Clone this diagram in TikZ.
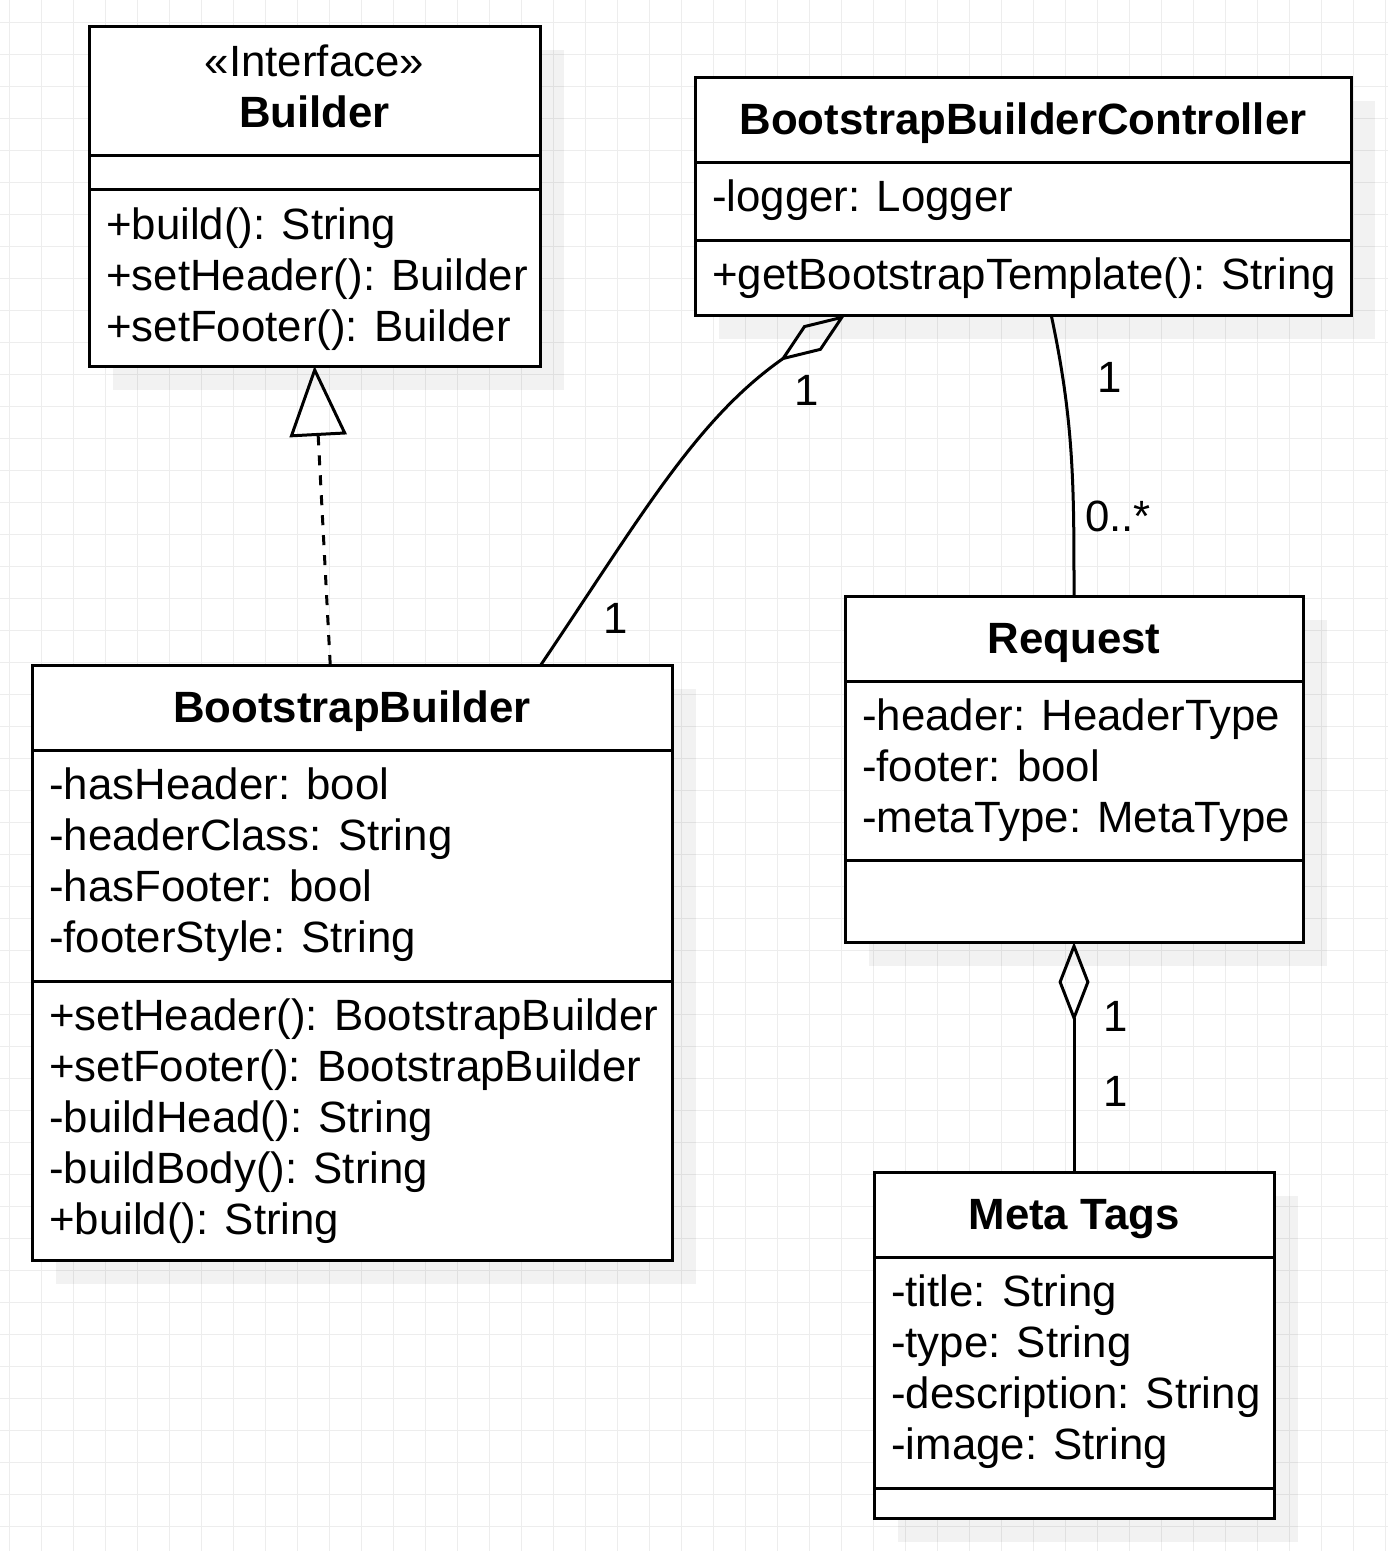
\documentclass[tikz,border=0pt]{standalone}
\usepackage{fontspec}
\setmainfont{Liberation Sans}
\usetikzlibrary{arrows.meta,calc,shadows}
\tikzset{
  gridline/.style={draw=black!7, line width=1pt},
  cls/.style={draw, line width=3pt, fill=white, anchor=north west, inner sep=0pt, outer sep=0pt,
    drop shadow={shadow xshift=24pt, shadow yshift=-24pt, opacity=0.05, fill=black}},
  div/.style={line width=3pt},
  txt/.style={anchor=base west, inner sep=0pt, font=\fontsize{43.8}{51}\selectfont},
  ttl/.style={anchor=base, inner sep=0pt, font=\fontsize{43.8}{51}\selectfont\bfseries},
  stereo/.style={anchor=base, inner sep=0pt, font=\fontsize{43.8}{51}\selectfont},
  lbl/.style={anchor=base, inner sep=0pt, font=\fontsize{43.8}{51}\selectfont},
  lblw/.style={anchor=base west, inner sep=0pt, font=\fontsize{43.8}{51}\selectfont},
  realize/.style={line width=3pt, dash pattern=on 10pt off 10pt, -{Triangle[open, length=70pt, width=57pt]}},
  aggreg/.style={line width=3pt, -{Diamond[open, length=80pt, width=31pt]}},
  assoc/.style={line width=3pt},
}
\begin{document}
\begin{tikzpicture}[x=1pt,y=1pt]
\useasboundingbox (0,0) rectangle (1388,-1551);
\fill[white] (0,0) rectangle (1388,-1551);
\foreach \i in {0,...,43} {\draw[gridline] (9.3+32*\i,0) -- (9.3+32*\i,-1551);}
\foreach \j in {0,...,47} {\draw[gridline] (0,-22-32*\j) -- (1388,-22-32*\j);}

% ---------- Builder interface ----------
\node[cls, minimum width=451pt, minimum height=340pt] (builder) at (89,-26) {};
\draw[div] (builder.west |- 0,-155) -- (builder.east |- 0,-155);
\draw[div] (builder.west |- 0,-189) -- (builder.east |- 0,-189);
\node[stereo] (builderS) at (314.5,-76) {«Interface»};
\node[ttl] (builderT) at (314.5,-127) {Builder};
\node[txt] (builderM1) at (106,-239) {+build(): String};
\node[txt] (builderM2) at (106,-290) {+setHeader(): Builder};
\node[txt] (builderM3) at (106,-341) {+setFooter(): Builder};

% ---------- BootstrapBuilderController ----------
\node[cls, minimum width=656pt, minimum height=238pt] (ctrl) at (695,-77) {};
\draw[div] (ctrl.west |- 0,-162) -- (ctrl.east |- 0,-162);
\draw[div] (ctrl.west |- 0,-240) -- (ctrl.east |- 0,-240);
\node[ttl] (ctrlT) at (1023,-134.5) {BootstrapBuilderController};
\node[txt] (ctrlA1) at (712,-211) {-logger: Logger};
\node[txt] (ctrlM1) at (712,-289) {+getBootstrapTemplate(): String};

% ---------- BootstrapBuilder ----------
\node[cls, minimum width=640pt, minimum height=595pt] (bb) at (32,-665) {};
\draw[div] (bb.west |- 0,-750) -- (bb.east |- 0,-750);
\draw[div] (bb.west |- 0,-981) -- (bb.east |- 0,-981);
\node[ttl] (bbT) at (352,-722.5) {BootstrapBuilder};
\node[txt] (bbA1) at (49,-799) {-hasHeader: bool};
\node[txt] (bbA2) at (49,-850) {-headerClass: String};
\node[txt] (bbA3) at (49,-901) {-hasFooter: bool};
\node[txt] (bbA4) at (49,-952) {-footerStyle: String};
\node[txt] (bbM1) at (49,-1030) {+setHeader(): BootstrapBuilder};
\node[txt] (bbM2) at (49,-1081) {+setFooter(): BootstrapBuilder};
\node[txt] (bbM3) at (49,-1132) {-buildHead(): String};
\node[txt] (bbM4) at (49,-1183) {-buildBody(): String};
\node[txt] (bbM5) at (49,-1234) {+build(): String};

% ---------- Request ----------
\node[cls, minimum width=458pt, minimum height=346pt] (req) at (845,-596) {};
\draw[div] (req.west |- 0,-681) -- (req.east |- 0,-681);
\draw[div] (req.west |- 0,-860) -- (req.east |- 0,-860);
\node[ttl] (reqT) at (1074,-653.5) {Request};
\node[txt] (reqA1) at (862,-730) {-header: HeaderType};
\node[txt] (reqA2) at (862,-781) {-footer: bool};
\node[txt] (reqA3) at (862,-832) {-metaType: MetaType};

% ---------- Meta Tags ----------
\node[cls, minimum width=400pt, minimum height=346pt] (meta) at (874,-1172) {};
\draw[div] (meta.west |- 0,-1257) -- (meta.east |- 0,-1257);
\draw[div] (meta.west |- 0,-1488) -- (meta.east |- 0,-1488);
\node[ttl] (metaT) at (1074,-1229.5) {Meta Tags};
\node[txt] (metaA1) at (891,-1306) {-title: String};
\node[txt] (metaA2) at (891,-1357) {-type: String};
\node[txt] (metaA3) at (891,-1408) {-description: String};
\node[txt] (metaA4) at (891,-1459) {-image: String};

% ---------- connectors ----------
\draw[realize] ($(bb.north west)!0.466!(bb.north east)$) -- (builder.south);
\draw[aggreg] ($(bb.north west)!0.795!(bb.north east)$) to[out=56, in=215] ($(ctrl.south west)!0.229!(ctrl.south east)$);
\draw[assoc] ($(ctrl.south west)!0.543!(ctrl.south east)$) to[out=-78, in=90] (req.north);
\draw[aggreg] (meta.north) -- (req.south);

% ---------- multiplicities ----------
\node[lbl] (m1) at (807,-405) {1};
\node[lbl] (m2) at (616,-633.5) {1};
\node[lbl] (m3) at (1110,-392) {1};
\node[lblw] (m4) at (1085,-531) {0..*};
\node[lbl] (m5) at (1116,-1031.5) {1};
\node[lbl] (m6) at (1116,-1106) {1};
\end{tikzpicture}
\end{document}
